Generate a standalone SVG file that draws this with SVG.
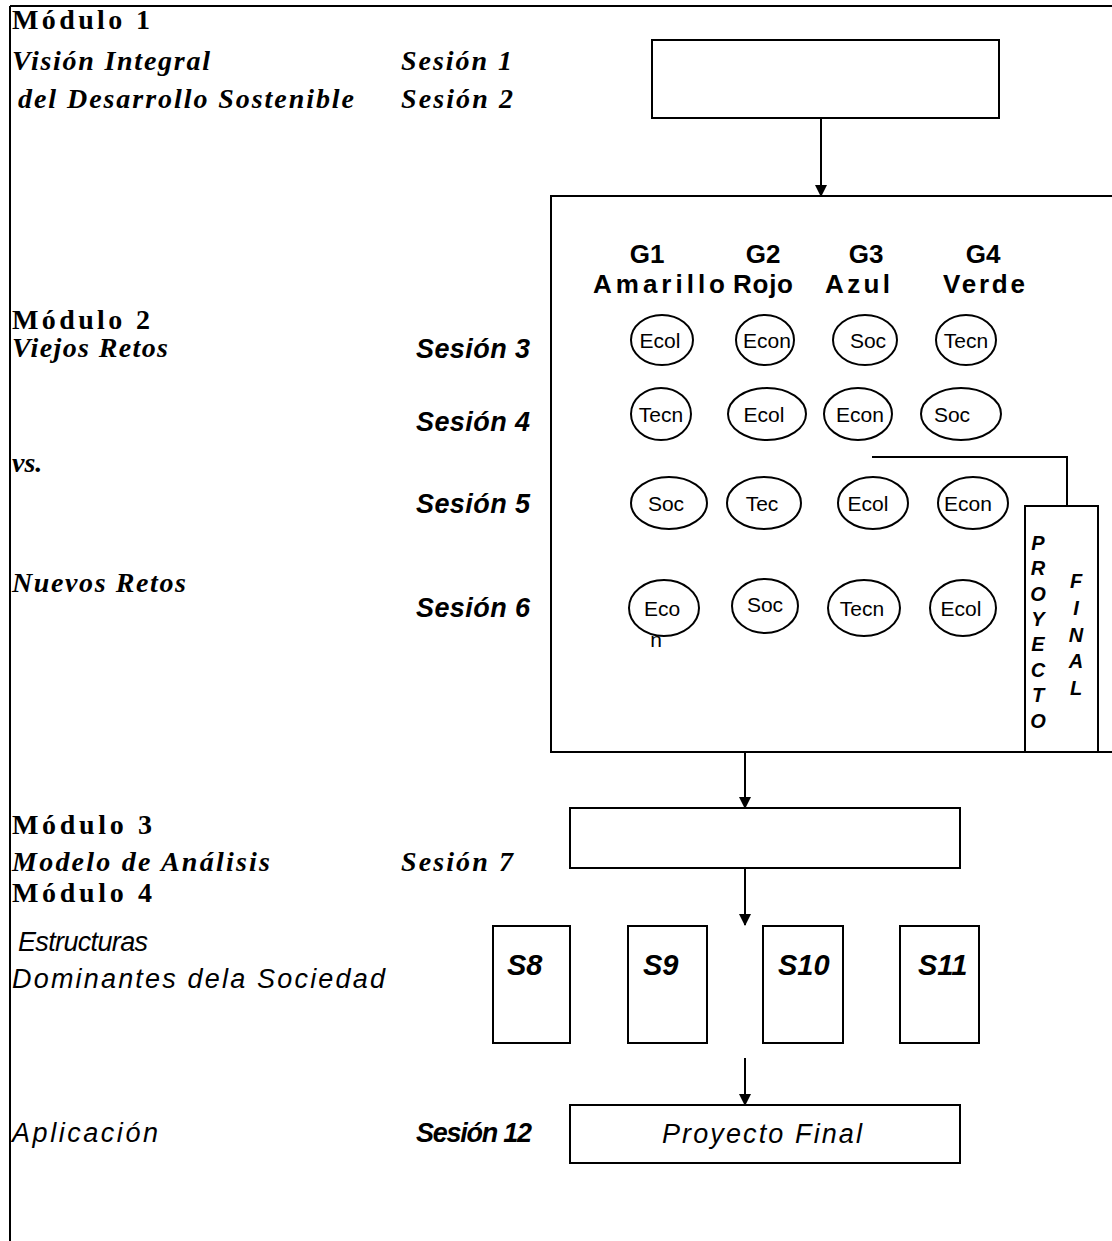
<svg xmlns="http://www.w3.org/2000/svg" width="1112" height="1241" viewBox="0 0 1112 1241">
<defs>
<marker id="ah" markerWidth="12" markerHeight="12" refX="11" refY="6" orient="auto" markerUnits="userSpaceOnUse">
<path d="M0,0 L12,6 L0,12 Z" fill="#000"/>
</marker>
<style>
.ln{stroke:#000;stroke-width:2;fill:none}
.box{stroke:#000;stroke-width:2;fill:#fff}
.el{stroke:#000;stroke-width:2;fill:none}
.mod{font-family:"Liberation Serif",serif;font-weight:bold;font-size:28px;fill:#000}
.serit{font-family:"Liberation Serif",serif;font-weight:bold;font-style:italic;font-size:28px;fill:#000}
.ses{font-family:"Liberation Sans",sans-serif;font-weight:bold;font-style:italic;font-size:27px;fill:#000}
.sit{font-family:"Liberation Sans",sans-serif;font-style:italic;font-size:27px;fill:#000}
.hdr{font-family:"Liberation Sans",sans-serif;font-weight:bold;font-size:26px;fill:#000}
.et{font-family:"Liberation Sans",sans-serif;font-size:21px;fill:#000;text-anchor:middle}
.pf{font-family:"Liberation Sans",sans-serif;font-weight:bold;font-style:italic;font-size:20px;fill:#000;text-anchor:middle}
.sb{font-family:"Liberation Sans",sans-serif;font-weight:bold;font-style:italic;font-size:29px;fill:#000}
</style>
</defs>
<g id="frame">
<line class="ln" x1="10" y1="6" x2="1112" y2="6"/>
<line class="ln" x1="10" y1="6" x2="10" y2="1241"/>
</g>
<g id="labels">
<text class="mod" x="12" y="29" textLength="138" lengthAdjust="spacing">Módulo 1</text>
<text class="serit" x="12" y="70" textLength="198" lengthAdjust="spacing">Visión Integral</text>
<text class="serit" x="18" y="108" textLength="336" lengthAdjust="spacing">del Desarrollo Sostenible</text>
<text class="serit" x="401" y="70" textLength="111" lengthAdjust="spacing">Sesión 1</text>
<text class="serit" x="401" y="108" textLength="112" lengthAdjust="spacing">Sesión 2</text>
<text class="mod" x="12" y="329" textLength="138" lengthAdjust="spacing">Módulo 2</text>
<text class="serit" x="12" y="357" textLength="156" lengthAdjust="spacing">Viejos Retos</text>
<text class="serit" x="12" y="472">vs.</text>
<text class="serit" x="12" y="592" textLength="174" lengthAdjust="spacing">Nuevos Retos</text>
<text class="ses" x="416" y="358" textLength="114" lengthAdjust="spacing">Sesión 3</text>
<text class="ses" x="416" y="431" textLength="114" lengthAdjust="spacing">Sesión 4</text>
<text class="ses" x="416" y="513" textLength="114" lengthAdjust="spacing">Sesión 5</text>
<text class="ses" x="416" y="617" textLength="114" lengthAdjust="spacing">Sesión 6</text>
<text class="mod" x="12" y="834" textLength="140" lengthAdjust="spacing">Módulo 3</text>
<text class="serit" x="12" y="871" textLength="258" lengthAdjust="spacing">Modelo de Análisis</text>
<text class="serit" x="401" y="871" textLength="112" lengthAdjust="spacing">Sesión 7</text>
<text class="mod" x="12" y="902" textLength="140" lengthAdjust="spacing">Módulo 4</text>
<text class="sit" x="18" y="951" textLength="130" lengthAdjust="spacing">Estructuras</text>
<text class="sit" x="12" y="988" textLength="373" lengthAdjust="spacing">Dominantes dela Sociedad</text>
<text class="sit" x="12" y="1142" textLength="146" lengthAdjust="spacing">Aplicación</text>
<text class="ses" x="416" y="1142" textLength="116" lengthAdjust="spacing">Sesión 12</text>
</g>
<g id="connectors">
<line class="ln" x1="821" y1="118" x2="821" y2="196" marker-end="url(#ah)"/>
<line class="ln" x1="745" y1="752" x2="745" y2="808" marker-end="url(#ah)"/>
<line class="ln" x1="745" y1="868" x2="745" y2="925" marker-end="url(#ah)"/>
<line class="ln" x1="745" y1="1058" x2="745" y2="1105" marker-end="url(#ah)"/>
<polyline class="ln" points="872,457 1067,457 1067,506"/>
</g>
<g id="top-box">
<rect class="box" x="652" y="40" width="347" height="78"/>
</g>
<g id="groups-box">
<polyline class="ln" points="1112,196 551,196 551,752 1112,752"/>
<text class="hdr" x="647" y="263" text-anchor="middle">G1</text>
<text class="hdr" x="763" y="263" text-anchor="middle">G2</text>
<text class="hdr" x="866" y="263" text-anchor="middle">G3</text>
<text class="hdr" x="983" y="263" text-anchor="middle">G4</text>
<text class="hdr" x="593" y="293" textLength="132" lengthAdjust="spacing">Amarillo</text>
<text class="hdr" x="733" y="293" textLength="60" lengthAdjust="spacing">Rojo</text>
<text class="hdr" x="825" y="293" textLength="65" lengthAdjust="spacing">Azul</text>
<text class="hdr" x="943" y="293" textLength="82" lengthAdjust="spacing">Verde</text>
</g>
<g id="row-s3">
<ellipse class="el" cx="662" cy="340" rx="31" ry="25"/><text class="et" x="660" y="348">Ecol</text>
<ellipse class="el" cx="765" cy="340" rx="29" ry="25"/><text class="et" x="767" y="348">Econ</text>
<ellipse class="el" cx="865" cy="340" rx="32" ry="25"/><text class="et" x="868" y="348">Soc</text>
<ellipse class="el" cx="966" cy="340" rx="30" ry="25"/><text class="et" x="966" y="348">Tecn</text>
</g>
<g id="row-s4">
<ellipse class="el" cx="661" cy="414" rx="30" ry="26"/><text class="et" x="661" y="422">Tecn</text>
<ellipse class="el" cx="767" cy="414" rx="39" ry="26"/><text class="et" x="764" y="422">Ecol</text>
<ellipse class="el" cx="858" cy="414" rx="34" ry="26"/><text class="et" x="860" y="422">Econ</text>
<ellipse class="el" cx="961" cy="414" rx="40" ry="26"/><text class="et" x="952" y="422">Soc</text>
</g>
<g id="row-s5">
<ellipse class="el" cx="669" cy="503" rx="38" ry="26"/><text class="et" x="666" y="511">Soc</text>
<ellipse class="el" cx="764" cy="503" rx="37" ry="26"/><text class="et" x="762" y="511">Tec</text>
<ellipse class="el" cx="873" cy="503" rx="35" ry="26"/><text class="et" x="868" y="511">Ecol</text>
<ellipse class="el" cx="973" cy="503" rx="35" ry="26"/><text class="et" x="968" y="511">Econ</text>
</g>
<g id="row-s6">
<ellipse class="el" cx="664" cy="608" rx="35" ry="28"/><text class="et" x="662" y="616">Eco</text><text class="et" x="656" y="647">n</text>
<ellipse class="el" cx="765" cy="606" rx="33" ry="27"/><text class="et" x="765" y="612">Soc</text>
<ellipse class="el" cx="864" cy="608" rx="36" ry="28"/><text class="et" x="862" y="616">Tecn</text>
<ellipse class="el" cx="963" cy="608" rx="33" ry="28"/><text class="et" x="961" y="616">Ecol</text>
</g>
<g id="proyecto-final-col">
<polyline class="ln" points="1025,752 1025,506 1098,506 1098,752"/>
<text class="pf" x="1038" y="550">P</text>
<text class="pf" x="1038" y="575">R</text>
<text class="pf" x="1038" y="601">O</text>
<text class="pf" x="1038" y="626">Y</text>
<text class="pf" x="1038" y="651">E</text>
<text class="pf" x="1038" y="677">C</text>
<text class="pf" x="1038" y="702">T</text>
<text class="pf" x="1038" y="728">O</text>
<text class="pf" x="1076" y="588">F</text>
<text class="pf" x="1076" y="615">I</text>
<text class="pf" x="1076" y="642">N</text>
<text class="pf" x="1076" y="668">A</text>
<text class="pf" x="1076" y="695">L</text>
</g>
<g id="modulo3-box">
<rect class="box" x="570" y="808" width="390" height="60"/>
</g>
<g id="s8"><rect class="box" x="493" y="926" width="77" height="117"/><text class="sb" x="507" y="975">S8</text></g>
<g id="s9"><rect class="box" x="628" y="926" width="79" height="117"/><text class="sb" x="643" y="975">S9</text></g>
<g id="s10"><rect class="box" x="763" y="926" width="80" height="117"/><text class="sb" x="778" y="975">S10</text></g>
<g id="s11"><rect class="box" x="900" y="926" width="79" height="117"/><text class="sb" x="918" y="975">S11</text></g>
<g id="final-box">
<rect class="box" x="570" y="1105" width="390" height="58"/>
<text class="sit" x="662" y="1143" textLength="200" lengthAdjust="spacing">Proyecto Final</text>
</g>
</svg>
